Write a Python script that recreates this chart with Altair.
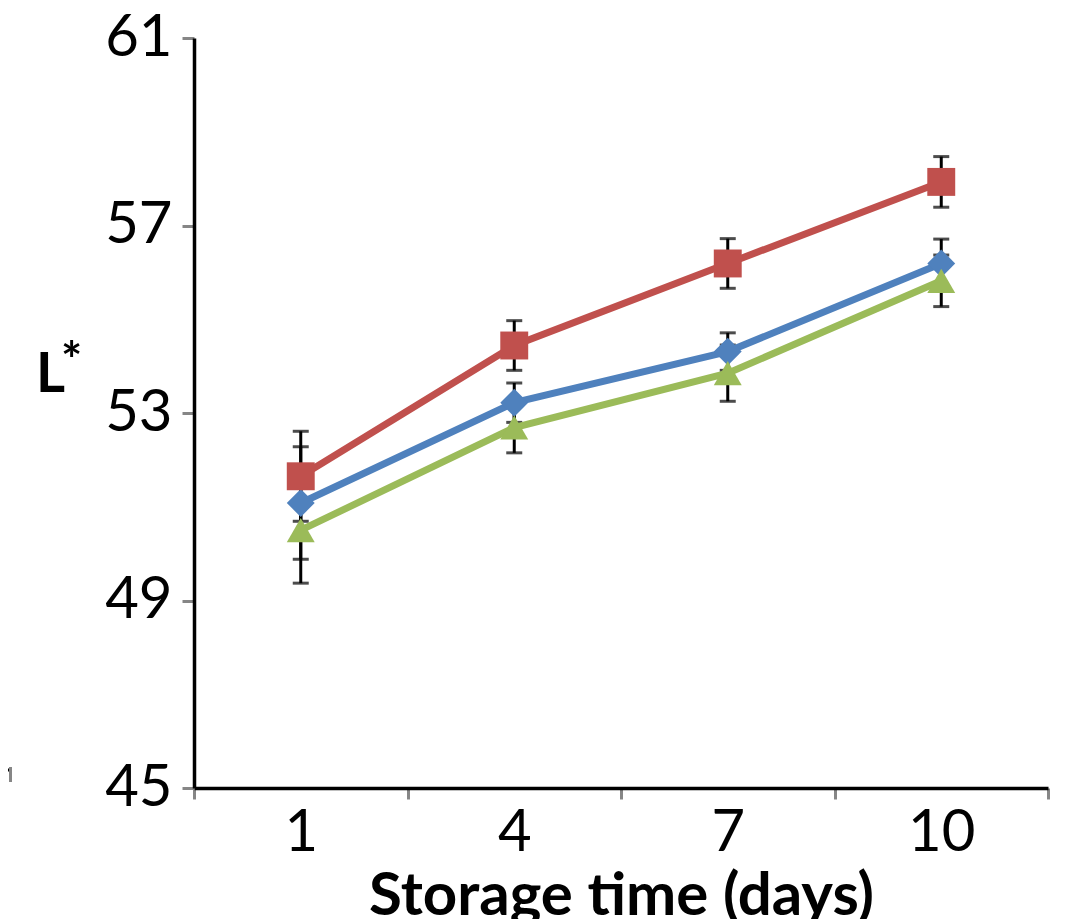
import altair as alt
import pandas as pd

# ---- data ----
days = ["1", "4", "7", "10"]
series_names = ["Series 1", "Series 2", "Series 3"]
blue_vals = [51.08, 53.22, 54.31, 56.19]
red_vals = [51.65, 54.44, 56.19, 57.93]
green_vals = [50.50, 52.69, 53.85, 55.82]
blue_err = [1.20, 0.42, 0.40, 0.52]
red_err = [0.96, 0.53, 0.53, 0.54]
green_err = [1.13, 0.54, 0.60, 0.55]
y_ticks = [45, 49, 53, 57, 61]
colors = ["#4F81BD", "#C0504D", "#9BBB59"]
shapes = ["diamond", "square", "triangle-up"]

rows = []
for name, vals, errs in zip(series_names, [blue_vals, red_vals, green_vals],
                            [blue_err, red_err, green_err]):
    for d, v, e in zip(days, vals, errs):
        rows.append({"series": name, "day": d, "value": v, "lo": v - e, "hi": v + e})
df = pd.DataFrame(rows)

FONT = "Lato"
GRAY = "#868686"

x_enc = alt.X(
    "day:O", sort=days, bandPosition=0.5,
    scale=alt.Scale(type="band", paddingInner=0, paddingOuter=0),
    axis=alt.Axis(
        title="Storage time (days)", titleFont=FONT, titleFontSize=60,
        titleFontWeight="bold", titleColor="black", titleBaseline="top",
        titleY=79,
        labelFont=FONT, labelFontSize=58, labelColor="black", labelAngle=0,
        labelPadding=5, tickBand="extent", tickColor=GRAY, tickWidth=3,
        tickSize=11, domainColor="black", domainWidth=3.5, grid=False,
    ),
)
y_scale = alt.Scale(domain=[45, 61], nice=False, zero=False)
y_enc = alt.Y(
    "value:Q", scale=y_scale,
    axis=alt.Axis(
        values=y_ticks, title=None, labelFont=FONT, labelFontSize=58,
        labelColor="black", labelPadding=10, tickColor=GRAY, tickWidth=3,
        tickSize=12, domainColor="black", domainWidth=3.5, grid=False,
    ),
)
color_enc = alt.Color("series:N", scale=alt.Scale(domain=series_names, range=colors),
                      legend=None)

base = alt.Chart(df)

err_rule = base.mark_rule(color="black", strokeWidth=3).encode(
    x=x_enc, y=alt.Y("lo:Q", scale=y_scale), y2="hi:Q")
cap_lo = base.mark_tick(color="black", thickness=3, size=16, orient="horizontal").encode(
    x=x_enc, y=alt.Y("lo:Q", scale=y_scale))
cap_hi = base.mark_tick(color="black", thickness=3, size=16, orient="horizontal").encode(
    x=x_enc, y=alt.Y("hi:Q", scale=y_scale))

lines = base.mark_line(strokeWidth=7).encode(x=x_enc, y=y_enc, color=color_enc)
points = base.mark_point(filled=True, opacity=1, size=780).encode(
    x=x_enc, y=y_enc, color=color_enc,
    shape=alt.Shape("series:N", scale=alt.Scale(domain=series_names, range=shapes),
                    legend=None),
)

t_L = alt.Chart(pd.DataFrame({"t": ["L"]})).mark_text(
    font=FONT, fontSize=56, fontWeight="bold", align="left", baseline="alphabetic",
    color="black").encode(text="t:N", x=alt.value(-158), y=alt.value(354))
t_star = alt.Chart(pd.DataFrame({"t": ["*"]})).mark_text(
    font=FONT, fontSize=50, fontWeight="bold", align="left", baseline="alphabetic",
    color="black").encode(text="t:N", x=alt.value(-133), y=alt.value(340))

art = pd.DataFrame({"k": [0]})
art_h = alt.Chart(art).mark_rule(color="black", strokeWidth=3).encode(
    x=alt.value(-194), x2=alt.value(-185), y=alt.value(732))
art_v = alt.Chart(art).mark_rule(color=GRAY, strokeWidth=3).encode(
    x=alt.value(-183.5), y=alt.value(729), y2=alt.value(744))

chart = alt.layer(err_rule, cap_lo, cap_hi, lines, points, t_L, t_star, art_h, art_v).properties(
    width=854, height=750,
    padding={"left": 186, "top": 30, "right": 22, "bottom": 131},
    autosize=alt.AutoSizeParams(type="none"),
    background="white",
).configure_view(stroke=None)

chart.save("out.html", embed_options={"renderer": "svg", "actions": False})
